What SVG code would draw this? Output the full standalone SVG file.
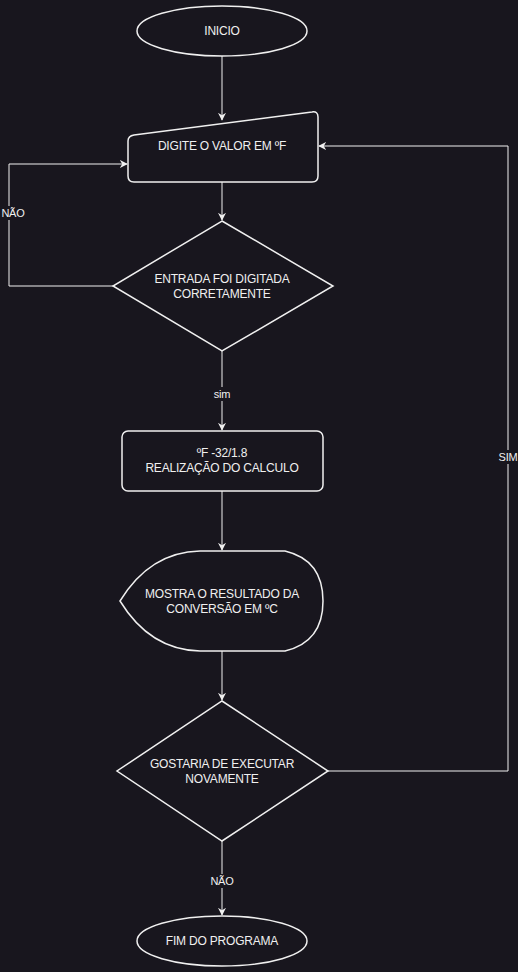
<svg xmlns="http://www.w3.org/2000/svg" width="518" height="972" viewBox="0 0 518 972">
<style>
.s{fill:#18161e;stroke:#f0f0f0;stroke-width:1.5}
.t{font-family:"Liberation Sans",Arial,sans-serif;font-size:12px;fill:#f0f0f0;text-anchor:middle;letter-spacing:-0.2px}
.c{fill:none;stroke:#f0f0f0;stroke-width:1}
.lb{fill:#18161e}
</style>
<defs>
<marker id="a" viewBox="0 0 10 10" refX="9" refY="5" markerWidth="8" markerHeight="8" markerUnits="userSpaceOnUse" orient="auto">
<path d="M0,0 L10,5 L0,10 L3,5 Z" fill="#f0f0f0"/>
</marker>
</defs>
<rect width="518" height="972" fill="#18161e"/>
<g id="connectors">
<path class="c" d="M222,56 V120" marker-end="url(#a)"/>
<path class="c" d="M222,182 V220" marker-end="url(#a)"/>
<path class="c" d="M113,286 H9 V164 H127" marker-end="url(#a)"/>
<path class="c" d="M222,351 V430" marker-end="url(#a)"/>
<path class="c" d="M222,491 V550" marker-end="url(#a)"/>
<path class="c" d="M222,651 V700" marker-end="url(#a)"/>
<path class="c" d="M328,771 H508 V146 H319" marker-end="url(#a)"/>
<path class="c" d="M222,841 V915" marker-end="url(#a)"/>
<rect class="lb" x="0" y="206" width="26" height="14"/>
<text class="t" x="13" y="217" style="font-size:11px">NÃO</text>
<rect class="lb" x="211" y="387" width="22" height="14"/>
<text class="t" x="222" y="398" style="font-size:11px">sim</text>
<rect class="lb" x="497" y="450" width="22" height="14"/>
<text class="t" x="508" y="461" style="font-size:11px">SIM</text>
<rect class="lb" x="209" y="874" width="26" height="14"/>
<text class="t" x="222" y="885" style="font-size:11px">NÃO</text>
</g>
<g id="inicio">
<ellipse class="s" cx="222" cy="31" rx="85" ry="25"/>
<text class="t" x="222" y="35">INICIO</text>
</g>
<g id="digite">
<path class="s" d="M134,135 L312,112 Q318,111 318,117 V176 Q318,182 312,182 H134 Q128,182 128,176 V141 Q128,136 134,135 Z"/>
<text class="t" x="222" y="150">DIGITE O VALOR EM ºF</text>
</g>
<g id="entrada">
<path class="s" d="M222,221 L333,286 L222,351 L113,286 Z"/>
<text class="t" x="222" y="283">ENTRADA FOI DIGITADA</text>
<text class="t" x="222" y="298">CORRETAMENTE</text>
</g>
<g id="calculo">
<rect class="s" x="122" y="431" width="201" height="60" rx="6"/>
<text class="t" x="222" y="457">ºF -32/1.8</text>
<text class="t" x="222" y="472">REALIZAÇÃO DO CALCULO</text>
</g>
<g id="mostra">
<path class="s" d="M120,601 Q150,552 200,551 L285,551 Q323,560 323,601 Q323,642 285,651 L200,651 Q150,650 120,601 Z"/>
<text class="t" x="222" y="598">MOSTRA O RESULTADO DA</text>
<text class="t" x="222" y="613">CONVERSÃO EM ºC</text>
</g>
<g id="gostaria">
<path class="s" d="M222,701 L328,771 L222,841 L117,771 Z"/>
<text class="t" x="222" y="768">GOSTARIA DE EXECUTAR</text>
<text class="t" x="222" y="783">NOVAMENTE</text>
</g>
<g id="fim">
<ellipse class="s" cx="222" cy="941" rx="85" ry="25"/>
<text class="t" x="222" y="945">FIM DO PROGRAMA</text>
</g>
</svg>
